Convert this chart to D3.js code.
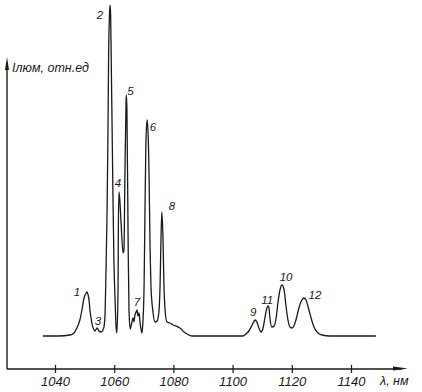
<!DOCTYPE html>
<html><head><meta charset="utf-8">
<script src="https://cdn.jsdelivr.net/npm/d3@7"></script>
<style>
html,body{margin:0;padding:0;background:#fff;}
svg{display:block;}
text{font-family:"Liberation Sans",Arial,sans-serif;font-style:italic;fill:#1a1a1a;}
</style></head>
<body>
<svg id="c" width="422" height="392"></svg>
<script>
// wavelength (nm), luminescence intensity (arb. units)
const wavelengths = [1035.9,1041.0,1045.1,1046.4,1047.4,1048.4,1049.1,1049.8,1050.5,1050.8,1051.1,1051.5,1051.8,1052.2,1052.5,1052.9,1053.5,1054.2,1054.9,1055.6,1056.2,1056.6,1056.9,1057.2,1057.6,1057.9,1058.1,1058.4,1058.6,1058.8,1059.0,1059.3,1059.6,1059.9,1060.3,1060.6,1060.9,1061.3,1061.4,1061.6,1061.9,1062.3,1063.0,1063.3,1063.6,1064.0,1064.1,1064.3,1064.7,1065.0,1065.4,1065.7,1066.4,1066.7,1067.0,1067.4,1067.7,1068.0,1068.4,1068.7,1069.1,1069.4,1069.7,1070.1,1070.4,1070.7,1071.1,1071.4,1071.8,1072.1,1072.4,1073.1,1073.8,1074.5,1075.1,1075.5,1075.8,1076.1,1076.5,1076.8,1077.2,1077.8,1078.9,1079.9,1080.9,1082.2,1083.6,1084.6,1086.3,1103.5,1104.5,1105.5,1106.6,1107.6,1108.2,1108.9,1109.6,1110.3,1110.9,1111.6,1112.0,1112.3,1112.6,1113.3,1114.0,1114.7,1115.3,1116.0,1116.7,1117.4,1118.0,1118.7,1119.4,1120.1,1120.7,1121.4,1122.4,1123.4,1124.1,1124.8,1125.8,1126.8,1127.8,1128.9,1130.2,1132.9,1148.4];
const intensities = [33,33,34,36,41,49,59,71,76,77,75,69,59,51,45,41,38,41,38,37,39,43,54,94,159,239,309,354,364,354,309,239,169,109,69,44,36,79,139,177,169,147,116,119,189,266,274,259,129,59,40,43,51,47,54,57,59,53,56,47,39,36,47,84,159,224,249,239,189,124,84,57,47,48,57,84,129,157,129,84,59,47,46,44,43,41,37,35,33,33,35,38,44,49,47,41,37,41,51,61,63,61,51,42,43,51,66,79,84,79,64,49,42,41,43,49,61,69,71,69,59,48,40,36,34,33,33];
const peakNames = ["1","2","3","4","5","6","7","8","9","11","10","12"];
const peakWavelengths = [1050.8,1058.6,1054.2,1061.6,1064.1,1071.1,1067.7,1076.1,1107.6,1112.0,1116.7,1124.1];
const peakIntensities = [77,364,41,177,274,249,59,157,49,63,84,71];
const tickLabels = [1040,1060,1080,1100,1120,1140];
const xAxisTitle = "λ, нм";
const yAxisTitle = "Iлюм, отн.ед";

const svg = d3.select("#c");
svg.append("rect").attr("width",422).attr("height",392).attr("fill","#fff");

const x = d3.scaleLinear().domain([1040,1140]).range([55,351]);
const y = d3.scaleLinear().domain([0,365]).range([369,4]);

const ink = "#1a1a1a";
const axisY0 = y(0);
const axisX0 = 7;

// axes lines with arrows
svg.append("line").attr("x1",axisX0).attr("y1",axisY0).attr("x2",axisX0).attr("y2",62)
  .attr("stroke",ink).attr("stroke-width",1.4);
svg.append("path").attr("d",`M${axisX0},57 L${axisX0-2},70 L${axisX0+2},70 Z`).attr("fill",ink);
svg.append("line").attr("x1",axisX0).attr("y1",axisY0).attr("x2",402).attr("y2",axisY0)
  .attr("stroke",ink).attr("stroke-width",1.4);
svg.append("path").attr("d",`M408,${axisY0-0.5} L393,${axisY0-2.5} L393,${axisY0+1.5} Z`).attr("fill",ink);

// x axis ticks and labels
const ax = svg.append("g").attr("transform",`translate(0,${axisY0})`)
  .call(d3.axisBottom(x).tickValues(tickLabels).tickSize(4).tickFormat(d3.format("d")));
ax.select(".domain").remove();
ax.selectAll(".tick line").attr("y1",-4).attr("y2",4).attr("stroke",ink).attr("stroke-width",1.2);
ax.selectAll(".tick text").attr("font-family","Liberation Sans, Arial, sans-serif")
  .attr("font-style","italic").attr("font-size",13).attr("fill",ink)
  .attr("y",12).attr("dy","0.35em");

svg.append("text").attr("x",380).attr("y",385).attr("font-size",12.5).text(xAxisTitle);
svg.append("text").attr("x",12).attr("y",72).attr("font-size",12.5).text(yAxisTitle);

// spectrum
const pts = wavelengths.map((w,i)=>[w,intensities[i]]);
const line = d3.line().x(d=>x(d[0])).y(d=>y(d[1])).curve(d3.curveMonotoneX);
svg.append("path").datum(pts).attr("d",line).attr("fill","none")
  .attr("stroke",ink).attr("stroke-width",1.3).attr("stroke-linejoin","round");

// peak labels
const labelOffsets = {"1":[-10,0],"2":[-10,10],"3":[1,-7],"4":[-1,-9],"5":[4,-4],"6":[6,7],
  "7":[0,-8],"8":[10,-6],"9":[-2,-8],"11":[-1,-6],"10":[4,-8],"12":[11,-3]};
peakNames.forEach((n,i)=>{
  const o = labelOffsets[n];
  svg.append("text").attr("x",x(peakWavelengths[i])+o[0]).attr("y",y(peakIntensities[i])+o[1])
    .attr("text-anchor","middle").attr("dominant-baseline","central")
    .attr("font-size",11.5).text(n);
});
</script>
</body></html>
